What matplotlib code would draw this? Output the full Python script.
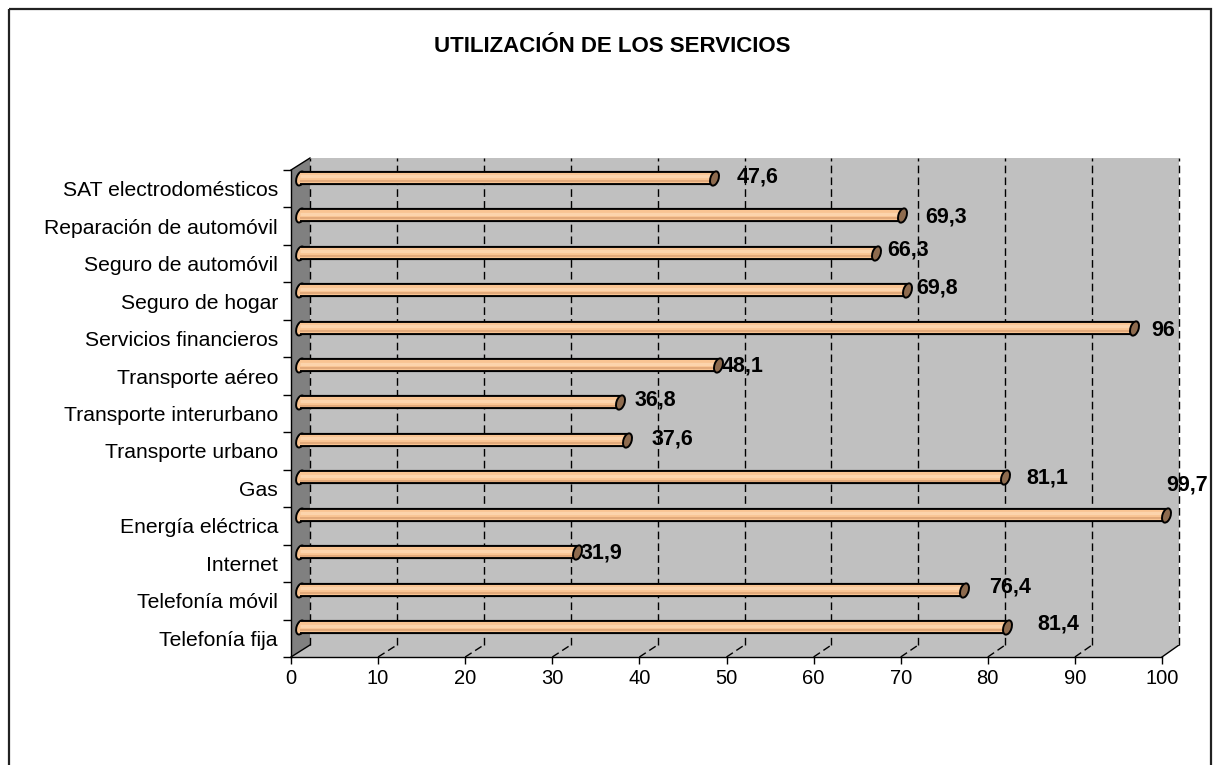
import matplotlib
matplotlib.use("Agg")
import matplotlib.pyplot as plt
from matplotlib.path import Path
from matplotlib.transforms import Affine2D, ScaledTranslation
from matplotlib.patches import Polygon, Rectangle
import numpy as np

plt.rcParams['font.family'] = ['Liberation Sans', 'DejaVu Sans']

# ---------------- data ----------------
title = "UTILIZACIÓN DE LOS SERVICIOS"
categories = ["Telefonía fija", "Telefonía móvil", "Internet", "Energía eléctrica", "Gas",
              "Transporte urbano", "Transporte interurbano", "Transporte aéreo",
              "Servicios financieros", "Seguro de hogar", "Seguro de automóvil",
              "Reparación de automóvil", "SAT electrodomésticos"]
values = [81.4, 76.4, 31.9, 99.7, 81.1, 37.6, 36.8, 48.1, 96, 69.8, 66.3, 69.3, 47.6]
value_labels = ["81,4", "76,4", "31,9", "99,7", "81,1", "37,6", "36,8", "48,1", "96",
                "69,8", "66,3", "69,3", "47,6"]
x_ticks = [0, 10, 20, 30, 40, 50, 60, 70, 80, 90, 100]

# label placement offsets (pixels: right, down) relative to the value point
label_offsets = [(20, -4), (15, -4), (-7, 0), (-10, -31), (12, 0), (15, -2), (5, -3.5),
                 (-6, 0), (7, 2), (0, -3), (1, -4), (13, 1), (13, -2)]

# ---------------- figure ----------------
W, H = 1214, 765
fig = plt.figure(figsize=(W / 100, H / 100), dpi=100)
fig.patch.set_facecolor('white')

def frect(l, t, r, b):
    return [l / W, 1 - b / H, (r - l) / W, (b - t) / H]

axbg = fig.add_axes([0, 0, 1, 1], zorder=0)
axbg.set_xlim(0, W)
axbg.set_ylim(H, 0)
axbg.axis('off')

axb = fig.add_axes(frect(310, 158, 1179, 645), zorder=1)   # back wall
axf = fig.add_axes(frect(291, 170, 1162, 657), zorder=2)   # front axes

n = len(categories)
for a in (axb, axf):
    a.set_xlim(0, 100)
    a.set_ylim(-0.5, n - 0.5)

# ---------- back wall ----------
WALL = '#C0C0C0'
axb.set_facecolor(WALL)
for s in axb.spines.values():
    s.set_visible(False)
axb.set_xticks([])
axb.set_yticks([])
dash = (0, (5.5, 3))
for v in x_ticks:
    axb.axvline(v, color='black', lw=1, linestyle=dash, clip_on=False, zorder=1)

# ---------- floor & side wall (pixel coords via transforms) ----------
def to_px(ax, x, y):
    dx, dy = ax.transData.transform((x, y))
    return dx, H - dy

fl0 = to_px(axf, 0, -0.5)
fl1 = to_px(axf, 100, -0.5)
bl0 = to_px(axb, 0, -0.5)
bl1 = to_px(axb, 100, -0.5)
ft0 = to_px(axf, 0, n - 0.5)
bt0 = to_px(axb, 0, n - 0.5)

axbg.add_patch(Polygon([fl0, fl1, bl1, bl0], closed=True, facecolor=WALL, edgecolor='none'))
axbg.add_patch(Polygon([ft0, bt0, bl0, fl0], closed=True, facecolor='#808080', edgecolor='none'))
axbg.plot([ft0[0], bt0[0]], [ft0[1], bt0[1]], color='black', lw=1)
for v in x_ticks:
    f = to_px(axf, v, -0.5)
    b = to_px(axb, v, -0.5)
    ls = '-' if v in (0, 100) else dash
    axbg.plot([f[0], b[0]], [f[1], b[1]], color='black', lw=1, linestyle=ls)

# border
axbg.add_patch(Rectangle((9, 9), 1202, 780, fill=False, edgecolor='#222222', lw=1.6))

# ---------- bars (cylinders) ----------
PEACH = '#F9C492'
bar_tr = axb.transData + ScaledTranslation(-10 / 100, -1 / 100, fig.dpi_scale_trans)
up_tr = bar_tr + ScaledTranslation(0, 1.5 / 100, fig.dpi_scale_trans)
dn_tr = bar_tr + ScaledTranslation(0, -3.2 / 100, fig.dpi_scale_trans)
cap_path = Path.unit_circle().transformed(Affine2D().scale(0.55, 1.0).rotate_deg(-18))

ypos = np.arange(n)
for i, v in zip(ypos, values):
    axb.plot([0], [i], marker=cap_path, ms=10.4, mfc=PEACH, mec='black', mew=1.4,
             transform=bar_tr, clip_on=False, zorder=2)
    axb.plot([0, v], [i, i], color='black', lw=10.2, solid_capstyle='butt',
             transform=bar_tr, clip_on=False, zorder=3)
    axb.plot([0, v], [i, i], color=PEACH, lw=7.3, solid_capstyle='butt',
             transform=bar_tr, clip_on=False, zorder=4)
    axb.plot([0, v], [i, i], color='#FCD4AC', lw=2.4, solid_capstyle='butt',
             transform=up_tr, clip_on=False, zorder=5)
    axb.plot([0, v], [i, i], color='#E2AA7B', lw=1.4, solid_capstyle='butt',
             transform=dn_tr, clip_on=False, zorder=5)
    axb.plot([v], [i], marker=cap_path, ms=10.6, mfc='#8E6B4E', mec='black', mew=1.4,
             transform=bar_tr, clip_on=False, zorder=6)

# value labels
for i, v, lbl, (dx, dy) in zip(ypos, values, value_labels, label_offsets):
    axb.annotate(lbl, xy=(v, i), xytext=(dx, -(dy + 2)), textcoords='offset pixels',
                 ha='left', va='center', fontsize=15.5, fontweight='bold',
                 annotation_clip=False, zorder=7)

# ---------- front axes ----------
axf.set_facecolor('none')
axf.spines['top'].set_visible(False)
axf.spines['right'].set_visible(False)
axf.spines['left'].set_linewidth(1)
axf.spines['bottom'].set_linewidth(1)
axf.set_xticks(x_ticks)
axf.set_xticklabels([str(t) for t in x_ticks], fontsize=14.5)
axf.tick_params(axis='x', direction='out', length=5, width=1, pad=4)
axf.set_yticks(np.arange(-0.5, n, 1.0))
axf.set_yticklabels([])
axf.tick_params(axis='y', which='major', direction='out', length=5.8, width=1)
axf.set_yticks(ypos, minor=True)
axf.set_yticklabels(categories, minor=True, fontsize=15.2)
axf.tick_params(axis='y', which='minor', length=0, pad=9.4)

fig.text(612 / W, 1 - 47 / H, title, ha='center', va='center', fontsize=16, fontweight='bold')

fig.savefig('out.png', dpi=100)
